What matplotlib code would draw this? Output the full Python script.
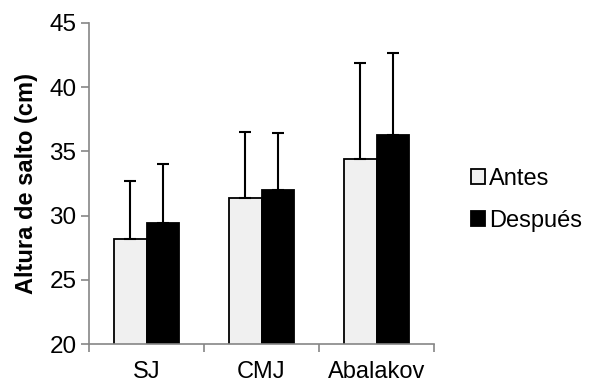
import numpy as np
import matplotlib.pyplot as plt

plt.rcParams['font.family'] = ['Liberation Sans', 'DejaVu Sans']

categorias = ['SJ', 'CMJ', 'Abalakov']
antes = [28.2, 31.4, 34.4]
despues = [29.4, 32.0, 36.3]
err_antes = [4.5, 5.1, 7.45]
err_despues = [4.6, 4.4, 6.35]

gris = '#868686'

fig = plt.figure(figsize=(5.89, 3.83), dpi=100)
ax = fig.add_axes([89 / 589, 1 - 344.3 / 383, 345 / 589, 321.6 / 383])

x = np.arange(len(categorias))
w = 0.283
ek = dict(elinewidth=1.5, capsize=4.5, capthick=1.5, ecolor='black')
ax.bar(x - w / 2, antes, w, color='#F0F0F0', edgecolor='black', linewidth=1.3,
       yerr=[np.zeros(3), err_antes], error_kw=ek, label='Antes', zorder=2)
ax.bar(x + w / 2, despues, w, color='black', edgecolor='black', linewidth=1.3,
       yerr=[np.zeros(3), err_despues], error_kw=ek, label='Después', zorder=2)

ax.set_xlim(-0.5, 2.5)
ax.set_ylim(20, 45)
ax.set_yticks(range(20, 46, 5))
ax.set_xticks(x)
ax.set_xticklabels(categorias)
ax.set_xticks(np.arange(-0.5, 3, 1), minor=True)
ax.tick_params(axis='x', which='major', length=0, pad=12, labelsize=17)
ax.tick_params(axis='x', which='minor', length=6, color=gris, width=1.2)
ax.tick_params(axis='y', length=6, color=gris, width=1.2, labelsize=17.5, pad=3)

for s in ['top', 'right']:
    ax.spines[s].set_visible(False)
for s in ['left', 'bottom']:
    ax.spines[s].set_color(gris)
    ax.spines[s].set_linewidth(1.2)

ax.set_ylabel('Altura de salto (cm)', fontsize=17, fontweight='bold', labelpad=8)

ax.legend(loc='center left', bbox_to_anchor=(1.08, 0.45), frameon=False,
          fontsize=17, handlelength=0.6, handleheight=0.6, handletextpad=0.15,
          labelspacing=0.85, borderaxespad=0)

fig.savefig('out.png', dpi=100)
